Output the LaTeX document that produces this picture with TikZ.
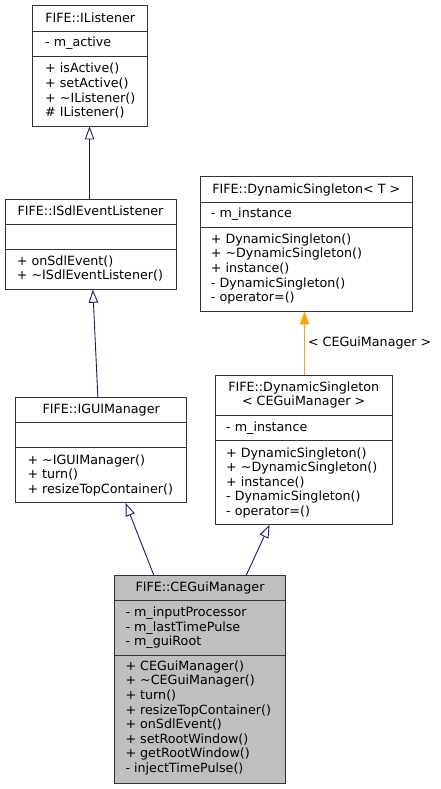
\documentclass[tikz,border=0pt]{standalone}
\usepackage{fontspec}
\setmainfont{DejaVu Sans}
\usetikzlibrary{fit,arrows.meta}
\newcommand\umlfont{\fontsize{12.7pt}{14.6pt}\selectfont}
\definecolor{edgeblue}{HTML}{191970}
\definecolor{edgeorange}{HTML}{FFA500}
\definecolor{hilite}{HTML}{BFBFBF}
\tikzset{
  classbox/.style={draw=black!80, line width=0.9pt, inner sep=0pt, fill=white},
  divider/.style={draw=black!80, line width=0.9pt},
  txt/.style={anchor=base west, inner sep=0pt, font=\umlfont},
  ttl/.style={anchor=base, inner sep=0pt, font=\umlfont},
  inherit/.style={draw=edgeblue, line width=0.9pt, -{Triangle[open, length=13pt, width=9.5pt, fill=white]}},
  tmpl/.style={draw=edgeorange, line width=0.9pt, -{Triangle[length=13pt, width=9.5pt]}},
}
\newcommand\umllines[4]{% prefix, x, first baseline, list
  \foreach \t [count=\i from 0] in {#4} {\node[txt] (#1\i) at (#2, {#3+\i*14.6}) {\t};}}
\begin{document}
\begin{tikzpicture}[x=1pt, y=-1pt]
\useasboundingbox (0,0) rectangle (440,789);

% FIFE::IListener
\node[classbox, fit={(32.7,5)(147.7,126)}] (ilistener) {};
\draw[divider] (32.7,31.7) -- (147.7,31.7);
\draw[divider] (32.7,56.7) -- (147.7,56.7);
\node[ttl] (ilistenerT) at (90.2,22.6) {FIFE::IListener};
\node[txt] (ilistenerA) at (45,47) {- m\_active};
\umllines{ilistenerM}{45}{73.0}{+ isActive(),+ setActive(),+ \textasciitilde IListener(),\# IListener()}

% FIFE::ISdlEventListener
\node[classbox, fit={(5,199)(176,289.3)}] (isdl) {};
\draw[divider] (5,224.3) -- (176,224.3);
\draw[divider] (5,249.3) -- (176,249.3);
\node[ttl] (isdlT) at (90.5,215.3) {FIFE::ISdlEventListener};
\umllines{isdlM}{16.7}{265}{+ onSdlEvent(),+ \textasciitilde ISdlEventListener()}

% FIFE::IGUIManager
\node[classbox, fit={(15.7,397.3)(186.7,502.5)}] (igui) {};
\draw[divider] (15.7,422.7) -- (186.7,422.7);
\draw[divider] (15.7,447.7) -- (186.7,447.7);
\node[ttl] (iguiT) at (101.2,413.3) {FIFE::IGUIManager};
\umllines{iguiM}{27.3}{464.3}{+ \textasciitilde IGUIManager(),+ turn(),+ resizeTopContainer()}

% FIFE::DynamicSingleton< T >
\node[classbox, fit={(200,176)(412.7,311)}] (dynt) {};
\draw[divider] (200,202.3) -- (412.7,202.3);
\draw[divider] (200,227.3) -- (412.7,227.3);
\node[ttl] (dyntT) at (306.3,193.3) {FIFE::DynamicSingleton< T >};
\node[txt] (dyntA) at (210.7,217.6) {- m\_instance};
\umllines{dyntM}{210.7}{243.3}{+ DynamicSingleton(),+ \textasciitilde DynamicSingleton(),+ instance(),- DynamicSingleton(),- operator=()}

% FIFE::DynamicSingleton< CEGuiManager >
\node[classbox, fit={(215,375)(392.3,524.3)}] (dync) {};
\draw[divider] (215,415.7) -- (392.3,415.7);
\draw[divider] (215,440) -- (392.3,440);
\node[ttl] (dyncT) at (303.7,391) {FIFE::DynamicSingleton};
\node[ttl] (dyncT2) at (303.7,405.3) {< CEGuiManager >};
\node[txt] (dyncA) at (226,431) {- m\_instance};
\umllines{dyncM}{226}{457}{+ DynamicSingleton(),+ \textasciitilde DynamicSingleton(),+ instance(),- DynamicSingleton(),- operator=()}

% FIFE::CEGuiManager
\node[classbox, fill=hilite, fit={(114.3,575.7)(285.7,783.3)}] (cegui) {};
\draw[divider] (114.3,600) -- (285.7,600);
\draw[divider] (114.3,655) -- (285.7,655);
\node[ttl] (ceguiT) at (200,591.6) {FIFE::CEGuiManager};
\umllines{ceguiA}{125.3}{616.6}{- m\_inputProcessor,- m\_lastTimePulse,- m\_guiRoot}
\umllines{ceguiM}{125.3}{670.3}{+ CEGuiManager(),+ \textasciitilde CEGuiManager(),+ turn(),+ resizeTopContainer(),+ onSdlEvent(),+ setRootWindow(),+ getRootWindow(),- injectTimePulse()}

% connectors
\draw[inherit] ([xshift=85pt]isdl.north west) -- ([xshift=57.3pt]ilistener.south west);
\draw[inherit] ([xshift=82.6pt]igui.north west) -- ([xshift=88.3pt]isdl.south west);
\draw[inherit] ([xshift=40pt]cegui.north west) -- ([xshift=110.3pt]igui.south west);
\draw[inherit] ([xshift=132.4pt]cegui.north west) -- ([xshift=55pt]dync.south west);
\draw[tmpl] ([xshift=90pt]dync.north west) -- node[right, xshift=1pt, font=\umlfont, inner sep=2pt] (tlabel) {< CEGuiManager >} ([xshift=105pt]dynt.south west);
\end{tikzpicture}
\end{document}
